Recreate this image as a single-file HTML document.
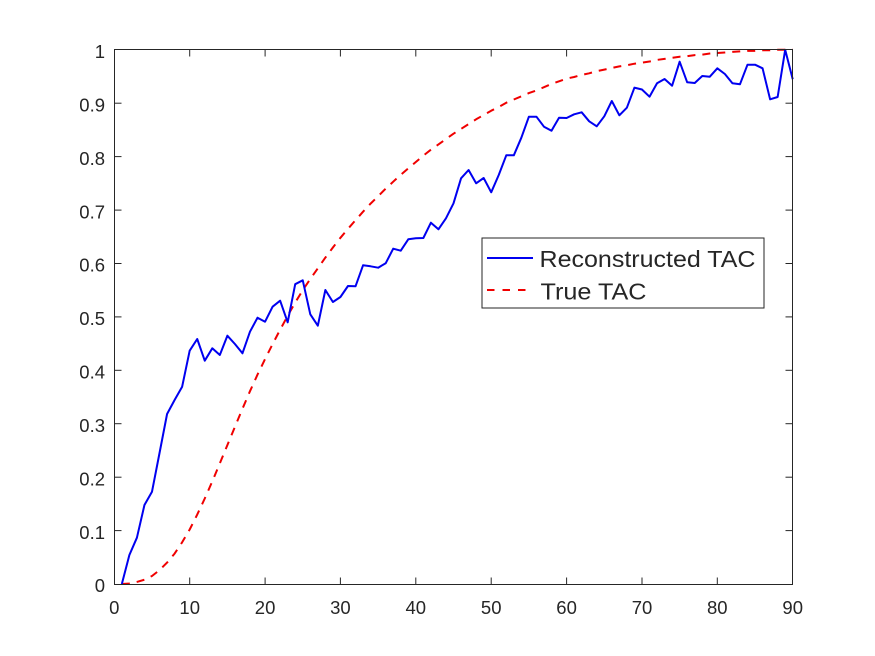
<!DOCTYPE html>
<html>
<head>
<meta charset="utf-8">
<style>
  html, body { margin: 0; padding: 0; background: #ffffff; }
  svg { display: block; }
  text { font-family: "Liberation Sans", Arial, sans-serif; fill: #262626; }
</style>
</head>
<body>
<svg width="875" height="656" viewBox="0 0 875 656" xmlns="http://www.w3.org/2000/svg">
  <rect x="0" y="0" width="875" height="656" fill="#ffffff"/>

  <!-- Red dashed: True TAC -->
  <polyline fill="none" stroke="#f00000" stroke-width="2" stroke-dasharray="8 7" stroke-linejoin="round"
    points="121.84,584 129.38,583.5 136.91,581.9 144.45,579.7 151.99,576.0 159.53,570.1 167.07,562.6 174.60,553.6 182.14,542.3 189.68,529.5 197.22,514.6 204.76,498.5 212.29,481.4 219.83,463.3 227.37,445.1 234.91,426.9 242.45,408.8 249.98,391.2 257.52,374.6 265.06,359.1 272.60,344.1 280.14,329.7 287.67,315.8 295.21,302.5 302.75,290.2 310.29,279.0 317.83,268.3 325.36,257.6 332.90,247.5 340.44,237.8 347.98,228.8 355.52,220.2 363.05,211.7 370.59,203.6 378.13,196.2 385.67,188.7 393.21,181.7 400.74,174.8 408.28,168.4 415.82,162.0 423.36,155.6 430.90,149.7 438.43,144.4 445.97,139.0 453.51,133.7 461.05,128.9 468.59,124.1 476.12,119.3 483.66,115.0 491.20,110.7 498.74,107.0 506.28,102.7 513.81,99.5 521.35,96.3 528.89,93.1 536.43,90.4 543.97,87.2 551.50,83.9 559.04,81.3 566.58,78.6 574.12,77.0 581.66,74.9 589.19,73.3 596.73,71.2 604.27,69.6 611.81,68.0 619.35,66.4 626.88,65.3 634.42,63.7 641.96,62.6 649.50,61.5 657.04,59.9 664.57,58.9 672.11,57.8 679.65,56.7 687.19,56.2 694.73,55.1 702.26,54.6 709.80,53.5 717.34,53.0 724.88,52.5 732.42,51.9 739.95,51.4 747.49,50.9 755.03,50.9 762.57,50.3 770.11,50.3 777.64,49.8 785.18,49.8 792.72,49.8"/>

  <!-- Blue solid: Reconstructed TAC -->
  <polyline fill="none" stroke="#0000f0" stroke-width="2" stroke-linejoin="round"
    points="121.84,584 129.38,555 136.91,537.7 144.45,505 151.99,491.7 159.53,453 167.07,414 174.60,400 182.14,386.7 189.68,350.7 197.22,339 204.76,360.7 212.29,348.3 219.83,355 227.37,335.7 234.91,344 242.45,353.3 249.98,331.7 257.52,317.7 265.06,321.7 272.60,306.7 280.14,300.7 287.67,322.3 295.21,284.2 302.75,280.3 310.29,314.3 317.83,325.7 325.36,290 332.90,302 340.44,297 347.98,286 355.52,286.3 363.05,265.3 370.59,266.3 378.13,267.7 385.67,263.3 393.21,248.7 400.74,250.7 408.28,239.3 415.82,238.3 423.36,238 430.90,222.7 438.43,229.3 445.97,218.3 453.51,203.3 461.05,178.3 468.59,170 476.12,183.3 483.66,178 491.20,192.3 498.74,175 506.28,155.3 513.81,155.3 521.35,137.7 528.89,116.7 536.43,116.7 543.97,126.7 551.50,130.7 559.04,117.7 566.58,118 574.12,114.3 581.66,112.3 589.19,121.3 596.73,126.3 604.27,116.3 611.81,101 619.35,115.3 626.88,107.7 634.42,87.7 641.96,89.5 649.50,96.7 657.04,83.3 664.57,79 672.11,85.7 679.65,61.7 687.19,82.3 694.73,83 702.26,76 709.80,76.7 717.34,68.3 724.88,74 732.42,83.3 739.95,84.3 747.49,64.7 755.03,64.7 762.57,68.3 770.11,99.3 777.64,97 785.18,49.8 792.72,79.3"/>

  <!-- Axes box -->
  <rect x="114.5" y="49.5" width="678" height="535" fill="none" stroke="#262626" stroke-width="1"/>

  <!-- Ticks -->
  <g stroke="#262626" stroke-width="1">
    <!-- x ticks bottom -->
    <line x1="189.7" y1="584.5" x2="189.7" y2="577.5"/>
    <line x1="265.1" y1="584.5" x2="265.1" y2="577.5"/>
    <line x1="340.4" y1="584.5" x2="340.4" y2="577.5"/>
    <line x1="415.8" y1="584.5" x2="415.8" y2="577.5"/>
    <line x1="491.2" y1="584.5" x2="491.2" y2="577.5"/>
    <line x1="566.6" y1="584.5" x2="566.6" y2="577.5"/>
    <line x1="642.0" y1="584.5" x2="642.0" y2="577.5"/>
    <line x1="717.3" y1="584.5" x2="717.3" y2="577.5"/>
    <!-- x ticks top -->
    <line x1="189.7" y1="49.5" x2="189.7" y2="56.5"/>
    <line x1="265.1" y1="49.5" x2="265.1" y2="56.5"/>
    <line x1="340.4" y1="49.5" x2="340.4" y2="56.5"/>
    <line x1="415.8" y1="49.5" x2="415.8" y2="56.5"/>
    <line x1="491.2" y1="49.5" x2="491.2" y2="56.5"/>
    <line x1="566.6" y1="49.5" x2="566.6" y2="56.5"/>
    <line x1="642.0" y1="49.5" x2="642.0" y2="56.5"/>
    <line x1="717.3" y1="49.5" x2="717.3" y2="56.5"/>
    <!-- y ticks left -->
    <line x1="114.5" y1="530.6" x2="121.5" y2="530.6"/>
    <line x1="114.5" y1="477.2" x2="121.5" y2="477.2"/>
    <line x1="114.5" y1="423.7" x2="121.5" y2="423.7"/>
    <line x1="114.5" y1="370.3" x2="121.5" y2="370.3"/>
    <line x1="114.5" y1="316.9" x2="121.5" y2="316.9"/>
    <line x1="114.5" y1="263.5" x2="121.5" y2="263.5"/>
    <line x1="114.5" y1="210.1" x2="121.5" y2="210.1"/>
    <line x1="114.5" y1="156.6" x2="121.5" y2="156.6"/>
    <line x1="114.5" y1="103.2" x2="121.5" y2="103.2"/>
    <!-- y ticks right -->
    <line x1="792.5" y1="530.6" x2="785.5" y2="530.6"/>
    <line x1="792.5" y1="477.2" x2="785.5" y2="477.2"/>
    <line x1="792.5" y1="423.7" x2="785.5" y2="423.7"/>
    <line x1="792.5" y1="370.3" x2="785.5" y2="370.3"/>
    <line x1="792.5" y1="316.9" x2="785.5" y2="316.9"/>
    <line x1="792.5" y1="263.5" x2="785.5" y2="263.5"/>
    <line x1="792.5" y1="210.1" x2="785.5" y2="210.1"/>
    <line x1="792.5" y1="156.6" x2="785.5" y2="156.6"/>
    <line x1="792.5" y1="103.2" x2="785.5" y2="103.2"/>
  </g>

  <!-- Y tick labels -->
  <g font-size="18.5" text-anchor="end">
    <text x="105" y="592.2">0</text>
    <text x="105" y="538.8">0.1</text>
    <text x="105" y="485.4">0.2</text>
    <text x="105" y="431.9">0.3</text>
    <text x="105" y="378.5">0.4</text>
    <text x="105" y="325.1">0.5</text>
    <text x="105" y="271.7">0.6</text>
    <text x="105" y="218.3">0.7</text>
    <text x="105" y="164.8">0.8</text>
    <text x="105" y="111.4">0.9</text>
    <text x="105" y="58.0">1</text>
  </g>

  <!-- X tick labels -->
  <g font-size="18.5" text-anchor="middle">
    <text x="114.3" y="614">0</text>
    <text x="189.7" y="614">10</text>
    <text x="265.1" y="614">20</text>
    <text x="340.4" y="614">30</text>
    <text x="415.8" y="614">40</text>
    <text x="491.2" y="614">50</text>
    <text x="566.6" y="614">60</text>
    <text x="642.0" y="614">70</text>
    <text x="717.3" y="614">80</text>
    <text x="792.7" y="614">90</text>
  </g>

  <!-- Legend -->
  <rect x="482" y="238" width="282" height="70" fill="#ffffff" stroke="#262626" stroke-width="1"/>
  <line x1="487" y1="258" x2="533" y2="258" stroke="#0000f0" stroke-width="2"/>
  <line x1="487" y1="290" x2="533" y2="290" stroke="#f00000" stroke-width="2" stroke-dasharray="7.5 8"/>
  <text x="539.5" y="267" font-size="23" textLength="216" lengthAdjust="spacingAndGlyphs">Reconstructed TAC</text>
  <text x="540.5" y="299.5" font-size="23" textLength="106" lengthAdjust="spacingAndGlyphs">True TAC</text>
</svg>
</body>
</html>
